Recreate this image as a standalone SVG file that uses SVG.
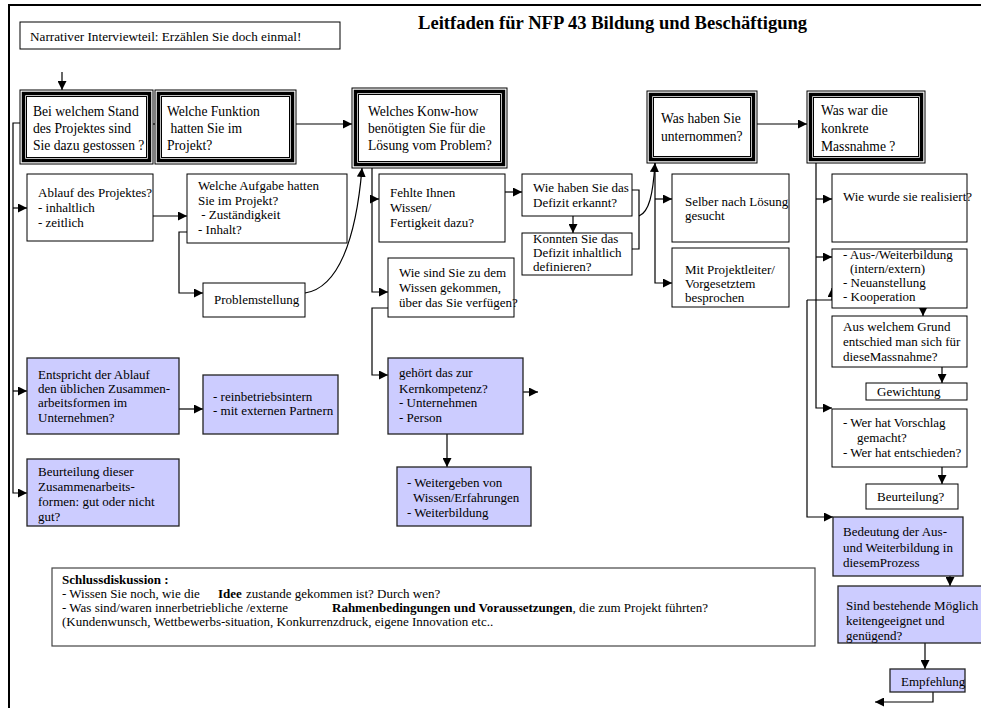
<svg xmlns="http://www.w3.org/2000/svg" width="981" height="708" viewBox="0 0 981 708" font-family="'Liberation Serif', 'Times New Roman', Times, 'DejaVu Serif', serif">
<style>
text{font-family:"Liberation Serif","Times New Roman",Times,"DejaVu Serif",serif;fill:#000}
.t14{font-size:13.6px}
.t13{font-size:13px}
.t12{font-size:13px}
.b{font-weight:bold}
.box{fill:#fff;stroke:#000;stroke-width:1}
.blue{fill:#ccccff;stroke:#222;stroke-width:1.3}
.thin{fill:none;stroke:#000;stroke-width:1}
.thick{fill:none;stroke:#000;stroke-width:3.5}
.c{fill:none;stroke:#000;stroke-width:1.2}
</style>
<defs>
<marker id="a" viewBox="0 0 10 10" refX="10" refY="5" markerWidth="9" markerHeight="9" markerUnits="userSpaceOnUse" orient="auto-start-reverse"><path d="M0,0 L10,5 L0,10z" fill="#000"/></marker>
</defs>
<rect width="981" height="708" fill="#fff"/>
<path d="M9,708 V5 H981" fill="none" stroke="#000" stroke-width="2"/>
<text class="b" x="418" y="29" style="font-size:18.6px">Leitfaden für NFP 43 Bildung und Beschäftigung</text>

<g id="connectors">
<path class="c" d="M62,72 V90" marker-end="url(#a)"/>
<path class="c" d="M137,124 H168" marker-start="url(#a)" marker-end="url(#a)"/>
<path class="c" d="M296,124 H352" marker-end="url(#a)"/>
<path class="c" d="M757,124 H807" marker-end="url(#a)"/>
<path class="c" d="M20,123 H13 V493 H27" marker-end="url(#a)"/>
<path class="c" d="M13,208 H27" marker-end="url(#a)"/>
<path class="c" d="M13,391 H27" marker-end="url(#a)"/>
<path class="c" d="M153,216 H187" marker-end="url(#a)"/>
<path class="c" d="M187,232 H179 V293 H203" marker-end="url(#a)"/>
<path class="c" d="M305,293 C338,288 356,240 362,168" marker-end="url(#a)"/>
<path class="c" d="M372,168 V292 H388" marker-end="url(#a)"/>
<path class="c" d="M372,199 H379" marker-end="url(#a)"/>
<path class="c" d="M388,308 H372 V375 H388" marker-end="url(#a)"/>
<path class="c" d="M505,192 H522" marker-end="url(#a)"/>
<path class="c" d="M573,216 V233" marker-end="url(#a)"/>
<path class="c" d="M631,190 H639 V249 H631"/>
<path class="c" d="M639,216 C649,212 653,195 655,163" marker-end="url(#a)"/>
<path class="c" d="M655,163 V283 H672" marker-end="url(#a)"/>
<path class="c" d="M655,199 H672" marker-end="url(#a)"/>
<path class="c" d="M816,163 V408 H832" marker-end="url(#a)"/>
<path class="c" d="M816,199 H832" marker-end="url(#a)"/>
<path class="c" d="M816,257 H832" marker-end="url(#a)"/>
<path class="c" d="M807,300 H832 V288" marker-end="url(#a)"/>
<path class="c" d="M807,300 V517 H833" marker-end="url(#a)"/>
<path class="c" d="M923,308 V316" marker-end="url(#a)"/>
<path class="c" d="M942,367 V383" marker-end="url(#a)"/>
<path class="c" d="M942,467 V484" marker-end="url(#a)"/>
<path class="c" d="M950,576 V586" marker-end="url(#a)"/>
<path class="c" d="M925,643 V669" marker-end="url(#a)"/>
<path class="c" d="M933,692 V702 H875" marker-end="url(#a)"/>
<path class="c" d="M523,392 H538" marker-end="url(#a)"/>
<path class="c" d="M447,434 V467" marker-end="url(#a)"/>
<path class="c" d="M179,409 H203" marker-end="url(#a)"/>
</g>

<g id="narrativ">
<rect class="box" x="20" y="22" width="320" height="27"/>
<text x="30" y="41" style="font-size:13.2px">Narrativer Interviewteil: Erzählen Sie doch einmal!</text>
</g>

<g id="stand">
<rect class="box" x="20" y="90" width="133" height="74"/>
<rect class="thick" x="23.5" y="93.5" width="126" height="67"/>
<rect class="thin" x="26.5" y="96.5" width="120" height="61"/>
<text class="t14"><tspan x="33" y="116">Bei welchem Stand</tspan><tspan x="33" y="133">des Projektes sind</tspan><tspan x="33" y="150">Sie dazu  gestossen ?</tspan></text>
</g>

<g id="funktion">
<rect class="box" x="155" y="90" width="141" height="74"/>
<rect class="thick" x="158.5" y="93.5" width="134" height="67"/>
<rect class="thin" x="161.5" y="96.5" width="128" height="61"/>
<text class="t14"><tspan x="167" y="116">Welche Funktion</tspan><tspan x="167" y="133"> hatten Sie im</tspan><tspan x="167" y="150">Projekt?</tspan></text>
</g>

<g id="knowhow">
<rect class="box" x="352" y="88" width="155" height="80"/>
<rect class="thick" x="355.5" y="91.5" width="148" height="73"/>
<rect class="thin" x="358.5" y="94.5" width="142" height="67"/>
<text class="t14"><tspan x="368" y="116">Welches  Konw-how</tspan><tspan x="368" y="133">benötigten Sie für die</tspan><tspan x="368" y="150">Lösung vom Problem?</tspan></text>
</g>

<g id="unternommen">
<rect class="box" x="647" y="91" width="110" height="72"/>
<rect class="thick" x="650.5" y="94.5" width="103" height="65"/>
<rect class="thin" x="653.5" y="97.5" width="97" height="59"/>
<text class="t14"><tspan x="661" y="123">Was haben Sie</tspan><tspan x="661" y="141">unternommen?</tspan></text>
</g>

<g id="massnahme">
<rect class="box" x="807" y="91" width="118" height="72"/>
<rect class="thick" x="810.5" y="94.5" width="111" height="65"/>
<rect class="thin" x="813.5" y="97.5" width="105" height="59"/>
<text class="t14"><tspan x="821" y="115">Was war die</tspan><tspan x="821" y="133">konkrete</tspan><tspan x="821" y="151">Massnahme ?</tspan></text>
</g>

<g id="ablauf">
<rect class="box" x="27" y="174" width="126" height="67"/>
<text class="t13"><tspan x="38" y="197">Ablauf des Projektes?</tspan><tspan x="38" y="212">- inhaltlich</tspan><tspan x="38" y="227">- zeitlich</tspan></text>
</g>

<g id="aufgabe">
<rect class="box" x="187" y="174" width="160" height="69"/>
<text class="t13"><tspan x="198" y="190">Welche Aufgabe hatten</tspan><tspan x="198" y="205">Sie im Projekt?</tspan><tspan x="198" y="219"> - Zuständigkeit</tspan><tspan x="198" y="234">- Inhalt?</tspan></text>
</g>

<g id="problemstellung">
<rect class="box" x="203" y="283" width="102" height="34"/>
<text class="t13" x="214" y="304">Problemstellung</text>
</g>

<g id="fehlte">
<rect class="box" x="379" y="174" width="126" height="68"/>
<text class="t13"><tspan x="390" y="197">Fehlte Ihnen</tspan><tspan x="390" y="212">Wissen/</tspan><tspan x="390" y="227">Fertigkeit dazu?</tspan></text>
</g>

<g id="erkannt">
<rect class="box" x="522" y="174" width="110" height="42"/>
<text class="t13"><tspan x="533" y="192">Wie haben Sie das</tspan><tspan x="533" y="207">Defizit erkannt?</tspan></text>
</g>

<g id="definieren">
<rect class="box" x="522" y="233" width="110" height="42"/>
<text class="t13"><tspan x="533" y="243">Konnten Sie das</tspan><tspan x="533" y="257">Defizit inhaltlich</tspan><tspan x="533" y="271">definieren?</tspan></text>
</g>

<g id="wissen">
<rect class="box" x="388" y="258" width="126" height="59"/>
<text class="t13"><tspan x="399" y="277">Wie sind Sie zu dem</tspan><tspan x="399" y="292">Wissen gekommen,</tspan><tspan x="399" y="307">über das Sie verfügen?</tspan></text>
</g>

<g id="selber">
<rect class="box" x="672" y="174" width="117" height="68"/>
<text class="t13"><tspan x="685" y="206">Selber nach Lösung</tspan><tspan x="685" y="220">gesucht</tspan></text>
</g>

<g id="projektleiter">
<rect class="box" x="672" y="248" width="117" height="59"/>
<text class="t13"><tspan x="685" y="274">Mit Projektleiter/</tspan><tspan x="685" y="288">Vorgesetztem</tspan><tspan x="685" y="302">besprochen</tspan></text>
</g>

<g id="realisiert">
<rect class="box" x="832" y="174" width="135" height="68"/>
<text class="t13" x="843" y="201">Wie wurde sie realisiert?</text>
</g>

<g id="ausbildung">
<rect class="box" x="832" y="249" width="135" height="59"/>
<text class="t13"><tspan x="843" y="259">- Aus-/Weiterbildung</tspan><tspan x="850" y="273">(intern/extern)</tspan><tspan x="843" y="287">- Neuanstellung</tspan><tspan x="843" y="301">- Kooperation</tspan></text>
</g>

<g id="grund">
<rect class="box" x="832" y="316" width="135" height="51"/>
<text class="t13"><tspan x="843" y="331">Aus welchem Grund</tspan><tspan x="843" y="346">entschied man sich für</tspan><tspan x="843" y="361">dieseMassnahme?</tspan></text>
</g>

<g id="gewichtung">
<rect class="box" x="866" y="383" width="101" height="17"/>
<text class="t13" x="877" y="396">Gewichtung</text>
</g>

<g id="vorschlag">
<rect class="box" x="832" y="409" width="135" height="58"/>
<text class="t13"><tspan x="843" y="427">- Wer hat Vorschlag</tspan><tspan x="857" y="442">gemacht?</tspan><tspan x="843" y="457">- Wer hat entschieden?</tspan></text>
</g>

<g id="beurteilung2">
<rect class="box" x="866" y="484" width="92" height="25"/>
<text class="t13" x="877" y="501">Beurteilung?</text>
</g>

<g id="bedeutung">
<rect class="blue" x="833" y="517" width="130" height="59"/>
<text class="t13"><tspan x="843" y="536">Bedeutung der Aus-</tspan><tspan x="843" y="552">und Weiterbildung in</tspan><tspan x="843" y="567">diesemProzess</tspan></text>
</g>

<g id="moeglichkeiten">
<rect class="blue" x="838" y="586" width="150" height="57"/>
<text class="t13"><tspan x="846" y="610">Sind bestehende Möglich</tspan><tspan x="846" y="625">keitengeeignet und</tspan><tspan x="846" y="640">genügend?</tspan></text>
</g>

<g id="empfehlung">
<rect class="blue" x="890" y="669" width="75" height="23"/>
<text class="t13" x="901" y="686">Empfehlung</text>
</g>

<g id="entspricht">
<rect class="blue" x="27" y="358" width="152" height="76"/>
<text class="t13"><tspan x="38" y="379">Entspricht der Ablauf</tspan><tspan x="38" y="393">den üblichen Zusammen-</tspan><tspan x="38" y="407">arbeitsformen im</tspan><tspan x="38" y="422">Unternehmen?</tspan></text>
</g>

<g id="rein">
<rect class="blue" x="203" y="375" width="135" height="59"/>
<text class="t13"><tspan x="213" y="401">- reinbetriebsintern</tspan><tspan x="213" y="415">- mit externen Partnern</tspan></text>
</g>

<g id="beurteilung1">
<rect class="blue" x="27" y="459" width="152" height="67"/>
<text class="t13"><tspan x="38" y="476">Beurteilung dieser</tspan><tspan x="38" y="491">Zusammenarbeits-</tspan><tspan x="38" y="506">formen: gut oder nicht</tspan><tspan x="38" y="521">gut?</tspan></text>
</g>

<g id="kernkompetenz">
<rect class="blue" x="388" y="358" width="135" height="76"/>
<text class="t13"><tspan x="399" y="377">gehört das zur</tspan><tspan x="399" y="393">Kernkompetenz?</tspan><tspan x="399" y="407">- Unternehmen</tspan><tspan x="399" y="422">- Person</tspan></text>
</g>

<g id="weitergeben">
<rect class="blue" x="397" y="467" width="134" height="59"/>
<text class="t13"><tspan x="407" y="487">- Weitergeben von</tspan><tspan x="413" y="502">Wissen/Erfahrungen</tspan><tspan x="407" y="517">- Weiterbildung</tspan></text>
</g>

<g id="schluss">
<rect x="52" y="568" width="763" height="78" fill="#fff" stroke="#444" stroke-width="1.2"/>
<text class="t12 b" x="62" y="584">Schlussdiskussion :</text>
<text class="t12" y="598"><tspan x="62">- Wissen Sie noch, wie die</tspan><tspan class="b" x="218">Idee</tspan><tspan x="246">zustande gekommen ist? Durch wen?</tspan></text>
<text class="t12" y="612"><tspan x="62">- Was sind/waren innerbetriebliche /externe</tspan><tspan class="b" x="332">Rahmenbedingungen und Voraussetzungen</tspan><tspan>, die zum Projekt führten?</tspan></text>
<text class="t12" x="62" y="626">(Kundenwunsch, Wettbewerbs-situation, Konkurrenzdruck, eigene Innovation etc..</text>
</g>
</svg>
